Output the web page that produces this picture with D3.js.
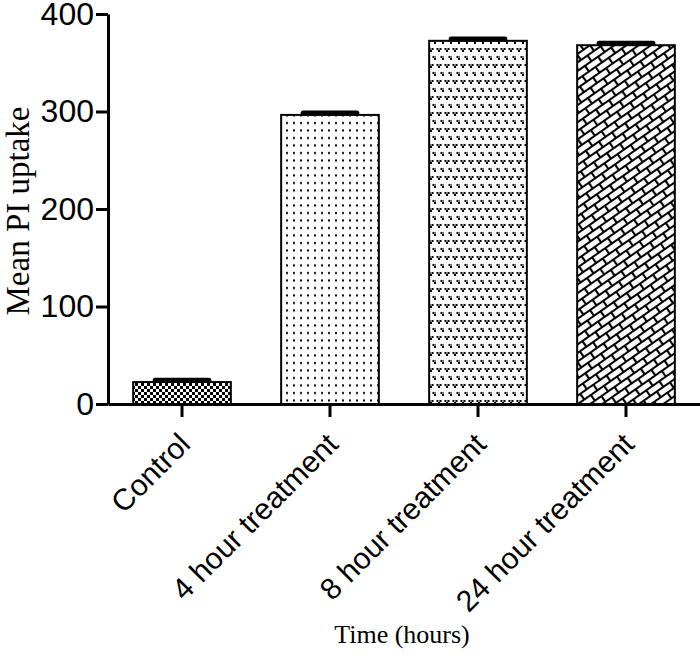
<!DOCTYPE html>
<html>
<head>
<meta charset="utf-8">
<script src="https://cdn.jsdelivr.net/npm/d3@7"></script>
<style>
	body { margin: 0; background: #fff; }
	svg { display: block; }
</style>
</head>
<body>
<div id="chart"></div>
<script>
let categories	= ["Control", "4 hour treatment", "8 hour treatment", "24 hour treatment"];
let means		= [22.5, 296.5, 372.5, 368];
let errors		= [3.5, 3.5, 3.5, 3.5];
let patterns	= ["checker", "dots", "vees", "bricks"];
let yTicks		= [0, 100, 200, 300, 400];

function createChart() {
	let canvasWidth		= 700;
	let canvasHeight	= 656;

	let margin	= { top: 14, right: 0, bottom: 252, left: 108 };
	let width	= canvasWidth - margin.left - margin.right;
	let height	= canvasHeight - margin.top - margin.bottom;

	let svg = d3.select("#chart").append("svg")
		.attr("width", canvasWidth)
		.attr("height", canvasHeight);

	svg.append("rect")
		.attr("width", canvasWidth)
		.attr("height", canvasHeight)
		.attr("fill", "#fff");

	// fill patterns
	let defs = svg.append("defs");

	let checker = defs.append("pattern")
		.attr("id", "checker")
		.attr("patternUnits", "userSpaceOnUse")
		.attr("width", 6).attr("height", 6);
	checker.append("rect").attr("width", 6).attr("height", 6).attr("fill", "#fff");
	checker.append("rect").attr("width", 3).attr("height", 3).attr("fill", "#000");
	checker.append("rect").attr("x", 3).attr("y", 3).attr("width", 3).attr("height", 3).attr("fill", "#000");

	let dots = defs.append("pattern")
		.attr("id", "dots")
		.attr("patternUnits", "userSpaceOnUse")
		.attr("width", 7).attr("height", 7.5);
	dots.append("rect").attr("width", 7).attr("height", 7.5).attr("fill", "#fff");
	dots.append("rect").attr("x", 3).attr("y", 3).attr("width", 2).attr("height", 2).attr("fill", "#000");

	let vees = defs.append("pattern")
		.attr("id", "vees")
		.attr("patternUnits", "userSpaceOnUse")
		.attr("width", 8).attr("height", 16);
	vees.append("rect").attr("width", 8).attr("height", 16).attr("fill", "#fff");
	[[1, 2], [5, 10]].forEach(([vx, vy]) => {
		vees.append("path")
			.attr("d", `M${vx - 0.5},${vy}h2v2h-2z M${vx + 2.5},${vy}h2v2h-2z M${vx + 1},${vy + 2}h2v2h-2z`)
			.attr("fill", "#000");
	});

	let bricks = defs.append("pattern")
		.attr("id", "bricks")
		.attr("patternUnits", "userSpaceOnUse")
		.attr("width", 16).attr("height", 14)
		.attr("patternTransform", "rotate(-35)");
	bricks.append("rect").attr("width", 16).attr("height", 14).attr("fill", "#fff");
	bricks.append("path")
		.attr("d", "M0,1H16 M0,8H16 M1,1V8 M9,8V15")
		.attr("stroke", "#000")
		.attr("stroke-width", 2.2)
		.attr("fill", "none");

	let g = svg.append("g")
		.attr("transform", "translate(" + margin.left + "," + margin.top + ")");

	let x = d3.scaleBand()
		.domain(categories)
		.range([0, width])
		.paddingInner(0.34)
		.paddingOuter(0.17);

	let y = d3.scaleLinear()
		.domain([0, 400])
		.range([height, 0]);

	// bars
	g.selectAll("rect.bar")
		.data(categories)
		.enter().append("rect")
		.attr("class", "bar")
		.attr("x", (d) => x(d))
		.attr("y", (d, i) => y(means[i]))
		.attr("width", x.bandwidth())
		.attr("height", (d, i) => height - y(means[i]))
		.attr("fill", (d, i) => "url(#" + patterns[i] + ")")
		.attr("stroke", "#000")
		.attr("stroke-width", 2);

	// error bars (mean + SEM)
	let capW = x.bandwidth() * 0.55;
	g.selectAll("line.err")
		.data(categories)
		.enter().append("line")
		.attr("class", "err")
		.attr("x1", (d) => x(d) + x.bandwidth() / 2)
		.attr("x2", (d) => x(d) + x.bandwidth() / 2)
		.attr("y1", (d, i) => y(means[i]))
		.attr("y2", (d, i) => y(means[i] + errors[i]))
		.attr("stroke", "#000")
		.attr("stroke-width", 3);

	g.selectAll("line.cap")
		.data(categories)
		.enter().append("line")
		.attr("class", "cap")
		.attr("x1", (d) => x(d) + x.bandwidth() / 2 - capW / 2)
		.attr("x2", (d) => x(d) + x.bandwidth() / 2 + capW / 2)
		.attr("y1", (d, i) => y(means[i] + errors[i]) + 1.5)
		.attr("y2", (d, i) => y(means[i] + errors[i]) + 1.5)
		.attr("stroke", "#000")
		.attr("stroke-width", 5)
		.attr("stroke-linecap", "round");

	// axes
	let yAxis = g.append("g")
		.call(d3.axisLeft(y).tickValues(yTicks).tickSize(12).tickSizeOuter(0).tickPadding(2));
	yAxis.selectAll("text")
		.attr("font-family", "'Liberation Sans', Arial, sans-serif")
		.attr("font-size", 32)
		.attr("fill", "#000");

	let xAxis = g.append("g")
		.attr("transform", "translate(0," + height + ")")
		.call(d3.axisBottom(x).tickSize(13).tickSizeOuter(0));
	xAxis.selectAll("text")
		.attr("font-family", "'Liberation Sans', Arial, sans-serif")
		.attr("font-size", 30)
		.attr("fill", "#000")
		.attr("text-anchor", "end")
		.attr("dy", 0)
		.attr("y", 0)
		.attr("transform", "translate(10,42) rotate(-45)");

	[yAxis, xAxis].forEach((a) => {
		a.selectAll("path, line").attr("stroke", "#000").attr("stroke-width", 3);
	});

	// axis titles
	svg.append("text")
		.attr("transform", "translate(29," + (margin.top + height / 2 + 2) + ") rotate(-90)")
		.attr("text-anchor", "middle")
		.attr("font-family", "'Liberation Serif', 'Times New Roman', serif")
		.attr("font-size", 33)
		.text("Mean PI uptake");

	svg.append("text")
		.attr("x", 402)
		.attr("y", 643)
		.attr("text-anchor", "middle")
		.attr("font-family", "'Liberation Serif', 'Times New Roman', serif")
		.attr("font-size", 26)
		.text("Time (hours)");
}

createChart();
</script>
</body>
</html>
